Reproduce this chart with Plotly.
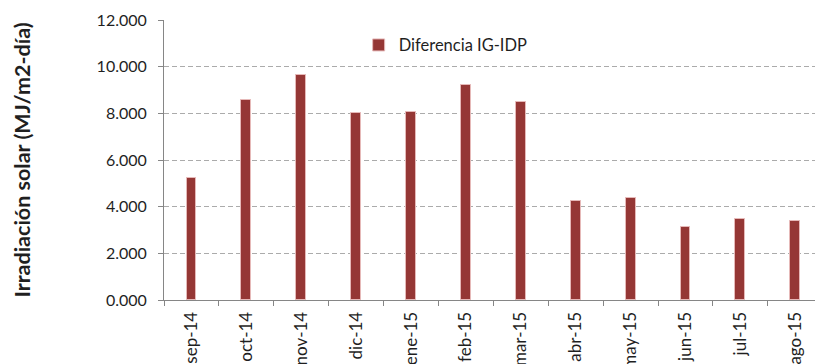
import plotly.graph_objects as go

# Monthly difference between global and diffuse irradiation
months = ["sep-14", "oct-14", "nov-14", "dic-14", "ene-15", "feb-15",
          "mar-15", "abr-15", "may-15", "jun-15", "jul-15", "ago-15"]
diferencia = [5.24, 8.57, 9.64, 8.03, 8.07, 9.21,
              8.50, 4.26, 4.39, 3.11, 3.46, 3.39]
y_ticks = [0, 2, 4, 6, 8, 10, 12]

BAR = "#953735"
AXIS = "#868686"
GRID = "#ABABAB"
TXT = "#1f1f1f"
FONT = "Lato, 'Open Sans', sans-serif"

fig = go.Figure()
fig.add_trace(go.Bar(
    x=months, y=diferencia, name="Diferencia IG-IDP",
    width=0.18,
    marker=dict(color=BAR, line=dict(color="#e6b9b8", width=1)),
    showlegend=True,
))

fig.update_layout(
    width=815, height=364,
    margin=dict(l=164, r=0, t=20, b=64),
    paper_bgcolor="white", plot_bgcolor="white",
    font=dict(family=FONT, size=16, color=TXT),
    showlegend=True,
    legend=dict(x=0.299, y=0.91, xanchor="left", yanchor="middle",
                bgcolor="rgba(0,0,0,0)", font=dict(size=16.5, color=TXT),
                itemwidth=30),
    bargap=0,
)

fig.update_xaxes(
    type="category", range=[-0.5, 11.36], automargin=False,
    tickangle=-90, tickson="boundaries",
    ticks="outside", ticklen=5, tickcolor=AXIS,
    showline=True, linecolor=AXIS, linewidth=1,
    showgrid=False, tickfont=dict(size=17, color=TXT),
    ticklabelstandoff=4,
)
fig.update_yaxes(
    range=[0, 12], tickvals=y_ticks, tickformat=".3f", automargin=False,
    ticks="outside", ticklen=5, tickcolor=AXIS,
    showline=True, linecolor=AXIS, linewidth=1,
    showgrid=True, gridcolor=GRID, gridwidth=1, griddash="5px,3px",
    zeroline=False, tickfont=dict(size=16, color=TXT),
    ticklabelstandoff=8,
    title=dict(text="<b>Irradiación solar (MJ/m2-día)</b>",
               font=dict(size=21.5, color=TXT), standoff=60),
)

fig.write_html("out.html")
